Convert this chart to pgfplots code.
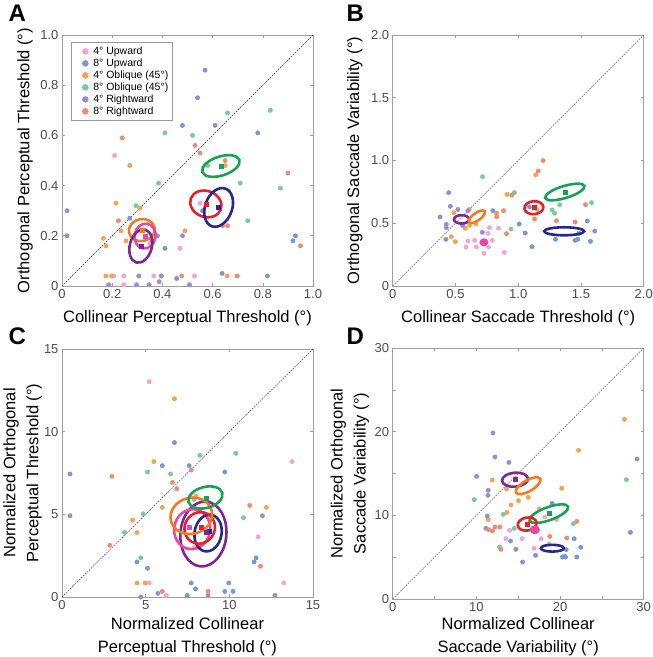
\documentclass[border=0pt]{standalone}
\usepackage{fontspec}
\setmainfont{Liberation Sans}
\usepackage{pgfplots}
\pgfplotsset{compat=1.18}
\definecolor{pinkL}{RGB}{244,164,208}
\definecolor{blueL}{RGB}{122,150,214}
\definecolor{orangeL}{RGB}{246,162,84}
\definecolor{greenL}{RGB}{124,202,152}
\definecolor{purpleL}{RGB}{152,140,210}
\definecolor{salmonL}{RGB}{238,140,112}
\definecolor{pinkS}{RGB}{232,72,160}
\definecolor{blueS}{RGB}{38,40,140}
\definecolor{orangeS}{RGB}{244,122,32}
\definecolor{greenS}{RGB}{22,162,82}
\definecolor{purpleS}{RGB}{122,40,152}
\definecolor{redS}{RGB}{230,32,42}
\pgfplotsset{
  panel/.style={width=251pt, height=251pt, scale only axis, anchor=south west,
    xmin=0, ymin=0,
    axis line style={gray!75, line width=0.7pt},
    tick style={gray!75, line width=0.6pt},
    major tick length=3pt, minor tick length=3pt, tick align=inside,
    tick label style={font=\fontsize{13}{13}\selectfont, text=black!70},
    label style={font=\fontsize{16.5}{23}\selectfont, align=center},
    /pgf/number format/assume math mode=true},
  pts/.style={only marks, mark=*, mark size=2.2pt, color=#1, mark options={draw=none, fill=#1},
    legend image code/.code={\path[draw=none, fill=none] (0pt,0pt) -- (18pt,0pt);
      \draw[##1, draw=none, mark size=2.9pt] plot coordinates {(12pt,0pt)};}},
  ell/.style n args={4}{forget plot, only marks, mark=o, mark size=1pt, color=#1,
    mark options={rotate=#4, xscale=#2, yscale=#3, line width=2.6pt, draw=#1, fill=none}},
  ellf/.style n args={4}{forget plot, only marks, mark=*, mark size=1pt, color=#1,
    mark options={rotate=#4, xscale=#2, yscale=#3, line width=1pt, draw=#1, fill=#1}},
  cen/.style={forget plot, only marks, mark=square*, mark size=2pt, color=#1},
  wh/.style={forget plot, only marks, mark=-, mark size=#1, color=white, mark options={line width=0.8pt, draw=white}},
  wv/.style={forget plot, only marks, mark=|, mark size=#1, color=white, mark options={line width=0.8pt, draw=white}},
  diag/.style={forget plot, black!85, line width=0.4pt, dash pattern=on 1.6pt off 1.1pt, mark=none},
}
\begin{document}
\begin{tikzpicture}
\path[use as bounding box] (0,0) rectangle (653pt,657pt);
% ---------------- A ----------------
\begin{axis}[panel, at={(62pt,371pt)}, xmax=1, ymax=1,
  xtick={0,0.2,0.4,0.6,0.8,1}, xticklabels={0,0.2,0.4,0.6,0.8,1.0},
  ytick={0,0.2,0.4,0.6,0.8,1}, yticklabels={0,0.2,0.4,0.6,0.8,1.0},
  xlabel={Collinear Perceptual Threshold (°)},
  ylabel={Orthogonal Perceptual Threshold (°)},
  xlabel style={at={(axis description cs:0.5,-0.127)}, anchor=center},
  ylabel style={at={(axis description cs:-0.147,0.5)}, anchor=center},
  legend style={at={(0.036,0.972)}, anchor=north west, draw=gray!80, line width=0.6pt,
    font=\fontsize{10.5}{11.5}\selectfont, row sep=-1.1pt, inner xsep=2pt, inner ysep=2.5pt},
  legend cell align=left]
\addplot[diag] coordinates {(0,0) (1,1)};
\addplot[pts=pinkL] coordinates {(0.21,0.52) (0.55,0.33) (0.47,0.15) (0.206,0.04) (0.246,0.04) (0.366,0.04) (0.528,0.04) (0.246,0.005) (0.35,0.17)};
\addplot[pts=blueL] coordinates {(0.27,0.27) (0.48,0.64) (0.54,0.75) (0.61,0.64) (0.78,0.61) (0.56,0.30) (0.93,0.20) (0.92,0.18) (0.41,0.15) (0.36,0.18) (0.638,0.05) (0.818,0.04) (0.457,0.03)};
\addplot[pts=orangeL] coordinates {(0.27,0.48) (0.215,0.33) (0.235,0.22) (0.165,0.19) (0.175,0.16) (0.255,0.18) (0.31,0.31) (0.65,0.48) (0.49,0.22) (0.175,0.04) (0.197,0.04) (0.658,0.04)};
\addplot[pts=greenL] coordinates {(0.295,0.32) (0.385,0.41) (0.41,0.61) (0.52,0.60) (0.66,0.69) (0.83,0.70) (0.87,0.39) (0.71,0.41) (0.74,0.26) (0.58,0.48)};
\addplot[pts=purpleL] coordinates {(0.02,0.30) (0.02,0.20) (0.57,0.86) (0.48,0.20) (0.38,0.20) (0.306,0.04) (0.396,0.04) (0.186,0.005) (0.297,0.005) (0.347,0.005) (0.387,0.017) (0.508,0.005)};
\addplot[pts=salmonL] coordinates {(0.24,0.59) (0.225,0.26) (0.53,0.56) (0.55,0.53) (0.90,0.45) (0.65,0.50) (0.64,0.24) (0.66,0.24) (0.95,0.16) (0.477,0.04) (0.698,0.04)};
\legend{4° Upward, 8° Upward, 4° Oblique (45°), 8° Oblique (45°), 4° Rightward, 8° Rightward}
\addplot[ell={greenS}{19.5}{9.5}{18}] coordinates {(0.633,0.478)};
\addplot[ell={redS}{16}{13}{-20}] coordinates {(0.573,0.327)};
\addplot[ell={blueS}{20}{13.5}{70}] coordinates {(0.624,0.313)};
\addplot[ell={orangeS}{13}{11}{10}] coordinates {(0.318,0.223)};
\addplot[ell={pinkS}{12.5}{10.5}{80}] coordinates {(0.331,0.199)};
\addplot[ell={purpleS}{17}{11}{75}] coordinates {(0.314,0.159)};
\addplot[cen=greenS] coordinates {(0.633,0.478)};
\addplot[cen=redS] coordinates {(0.573,0.327)};
\addplot[cen=blueS] coordinates {(0.624,0.313)};
\addplot[cen=orangeS] coordinates {(0.318,0.223)};
\addplot[cen=pinkS] coordinates {(0.331,0.199)};
\addplot[cen=purpleS] coordinates {(0.314,0.159)};
\end{axis}
% ---------------- B ----------------
\begin{axis}[panel, at={(392.7pt,371pt)}, xmax=2, ymax=2,
  xtick={0,0.5,1,1.5,2}, xticklabels={0,0.5,1.0,1.5,2.0},
  ytick={0,0.5,1,1.5,2}, yticklabels={0,0.5,1.0,1.5,2.0},
  xlabel={Collinear Saccade Threshold (°)},
  ylabel={Orthogonal Saccade Variability (°)},
  xlabel style={at={(axis description cs:0.5,-0.127)}, anchor=center},
  ylabel style={at={(axis description cs:-0.151,0.5)}, anchor=center}]
\addplot[diag] coordinates {(0,0) (2,2)};
\addplot[pts=pinkL] coordinates {(0.889,0.268) (0.843,0.46) (0.772,0.465) (0.759,0.42) (0.793,0.364) (0.764,0.311) (0.727,0.26) (0.666,0.311) (0.653,0.364) (0.6,0.359) (0.584,0.311)};
\addplot[pts=blueL] coordinates {(1.09,0.63) (1.55,0.518) (1.61,0.438) (1.483,0.42) (1.453,0.364) (1.475,0.372) (1.576,0.356) (1.297,0.372) (1.11,0.313) (1.056,0.422) (1.008,0.494) (0.798,0.6)};
\addplot[pts=orangeL] coordinates {(1.14,0.885) (0.912,0.73) (0.663,0.494) (0.613,0.483) (0.578,0.46) (0.61,0.61) (0.488,0.584) (0.467,0.393) (0.499,0.353)};
\addplot[pts=greenL] coordinates {(0.716,0.871) (0.97,0.744) (1.584,0.664) (1.33,0.648) (1.27,0.606) (1.29,0.58) (0.942,0.454) (1.15,0.61)};
\addplot[pts=purpleL] coordinates {(0.446,0.744) (0.714,0.428) (0.6,0.6) (0.52,0.61) (0.459,0.635) (0.377,0.55) (0.427,0.491) (0.427,0.465) (0.424,0.372) (0.557,0.483)};
\addplot[pts=salmonL] coordinates {(1.199,0.999) (1.159,0.916) (0.95,0.725) (1.536,0.648) (1.13,0.534) (1.305,0.52) (1.453,0.51) (0.907,0.417) (0.883,0.6) (0.828,0.58) (0.828,0.552)};
\addplot[ell={greenS}{20.5}{6}{17}] coordinates {(1.371,0.749)};
\addplot[ell={redS}{9.5}{6.5}{5}] coordinates {(1.125,0.624)};
\addplot[ell={blueS}{20}{4}{0}] coordinates {(1.366,0.436)};
\addplot[ell={purpleS}{7.6}{4.2}{0}] coordinates {(0.549,0.531)};
\addplot[ell={orangeS}{9.5}{3.8}{35}] coordinates {(0.671,0.552)};
\addplot[ellf={pinkS}{4}{3.5}{0}] coordinates {(0.727,0.348)};
\addplot[wh=9pt] coordinates {(1.366,0.436)};
\addplot[wv=2.2pt] coordinates {(1.366,0.436)};
\addplot[wh=3.5pt] coordinates {(0.549,0.531)};
\addplot[wv=2pt] coordinates {(0.549,0.531)};
\addplot[cen=greenS] coordinates {(1.371,0.749)};
\addplot[cen=redS] coordinates {(1.125,0.624)};
\end{axis}
% ---------------- C ----------------
\begin{axis}[panel, at={(62pt,60pt)}, height=248pt, xmax=15, ymax=15,
  xtick={0,5,10,15}, ytick={0,5,10,15},
  xlabel={Normalized Collinear\\Perceptual Threshold (°)},
  ylabel={Normalized Orthogonal\\Perceptual Threshold (°)},
  xlabel style={at={(axis description cs:0.5,-0.159)}, anchor=center},
  ylabel style={at={(axis description cs:-0.157,0.5)}, anchor=center}]
\addplot[diag] coordinates {(0,0) (15,15)};
\addplot[pts=pinkL] coordinates {(5.21,13.02) (13.75,8.19) (11.72,3.64) (5.21,0.85) (13.25,0.85) (6.23,0.10) (7.9,3.0)};
\addplot[pts=blueL] coordinates {(6.72,9.34) (5.99,7.94) (7.6,7.94) (9.73,7.56) (11.6,2.37) (11.48,2.12) (4.48,2.12) (5.11,1.74) (7.72,0.85) (7.98,0.49) (9.97,0.85) (5.73,0.22) (7.48,0.10) (9.73,0.34) (10.22,0.34)};
\addplot[pts=orangeL] coordinates {(6.72,11.99) (5.49,8.19) (5.99,5.42) (12.21,5.42) (4.22,4.65) (4.48,3.90) (4.48,0.85) (4.97,0.85) (8.0,6.1)};
\addplot[pts=greenL] coordinates {(8.24,8.57) (10.38,8.69) (5.11,7.56) (6.49,7.44) (10.84,4.79) (4.85,5.03) (3.74,3.90) (4.71,2.37) (7.9,5.9)};
\addplot[pts=purpleL] coordinates {(0.48,7.44) (0.48,4.91) (11.98,4.91) (4.71,0) (8.73,0.1) (12.73,0.1)};
\addplot[pts=salmonL] coordinates {(2.98,7.30) (7.72,7.68) (6.6,6.93) (6.86,6.55) (11.22,5.54) (2.86,3.13) (11.86,1.86) (5.99,0.34) (8.73,0.34)};
\addplot[ell={purpleS}{32.5}{23}{85}] coordinates {(8.45,3.81)};
\addplot[ell={pinkS}{20}{18}{80}] coordinates {(7.78,4.10)};
\addplot[ell={blueS}{18.5}{13.5}{80}] coordinates {(8.73,3.87)};
\addplot[ell={redS}{16}{15}{60}] coordinates {(8.23,4.18)};
\addplot[ell={orangeS}{21}{18}{15}] coordinates {(7.73,4.91)};
\addplot[ell={greenS}{17.5}{10.5}{15}] coordinates {(8.57,6.02)};
\addplot[cen=greenS] coordinates {(8.6,6.0)};
\addplot[cen=pinkS] coordinates {(7.6,4.2)};
\addplot[cen=redS] coordinates {(8.3,4.2)};
\addplot[cen=blueS] coordinates {(8.8,3.95)};
\addplot[cen=purpleS] coordinates {(8.6,3.9)};
\end{axis}
% ---------------- D ----------------
\begin{axis}[panel, at={(392.7pt,58pt)}, xmax=30, ymax=30,
  xtick={0,10,20,30}, ytick={0,10,20,30},
  minor xtick={5,15,25}, minor ytick={5,15,25},
  xlabel={Normalized Collinear\\Saccade Variability (°)},
  ylabel={Normalized Orthogonal\\Saccade Variability (°)},
  xlabel style={at={(axis description cs:0.5,-0.149)}, anchor=center},
  ylabel style={at={(axis description cs:-0.171,0.5)}, anchor=center}]
\addplot[diag] coordinates {(0,0) (30,30)};
\addplot[pts=pinkL] coordinates {(13.97,8.21) (13.53,7.21) (15.48,7.21) (16.91,6.06) (17.75,7.21) (18.7,6.61) (19.58,9.48) (18.19,9.8) (17.5,10.8)};
\addplot[pts=blueL] coordinates {(14.09,6.93) (14.72,5.94) (15.52,4.42) (17.07,5.22) (21.69,7.21) (20.73,5.9) (20.29,5.02) (20.57,5.1) (20.65,5.02) (22.0,5.02) (22.48,6.18) (28.41,7.97) (19.06,11.43)};
\addplot[pts=orangeL] coordinates {(27.7,21.47) (22.2,17.77) (11.9,14.22) (13.6,13.15) (16.2,12.15) (15.04,11.75) (20.21,13.23) (14.13,11.24) (13.65,10.36) (11.42,9.48)};
\addplot[pts=greenL] coordinates {(27.93,14.26) (9.75,11.87) (13.21,10.12) (14.52,8.45) (12.77,6.22) (21.6,9.0)};
\addplot[pts=purpleL] coordinates {(11.98,19.84) (29.21,16.73) (12.22,16.97) (13.89,16.33) (10.03,14.66) (11.42,12.99) (11.38,12.39) (11.3,9.92) (11.14,8.45)};
\addplot[pts=salmonL] coordinates {(12.81,8.61) (12.22,8.61) (11.94,8.13) (11.46,8.29) (12.93,5.94) (18.78,7.49) (22.0,9.28) (20.81,7.29)};
\addplot[ell={purpleS}{13}{7}{5}] coordinates {(14.62,14.26)};
\addplot[ell={orangeS}{14}{5.5}{30}] coordinates {(16.19,13.54)};
\addplot[ell={greenS}{20.5}{6.5}{20}] coordinates {(18.66,10.2)};
\addplot[ell={redS}{9.5}{6.5}{10}] coordinates {(16.07,8.96)};
\addplot[ellf={pinkS}{4.5}{4}{0}] coordinates {(16.99,8.28)};
\addplot[ell={blueS}{11.5}{3.4}{0}] coordinates {(19.08,6.07)};
\addplot[wh=6pt] coordinates {(19.08,6.07)};
\addplot[wv=2pt] coordinates {(19.08,6.07)};
\addplot[wv=3pt] coordinates {(16.19,13.54)};
\addplot[cen=purpleS] coordinates {(14.62,14.26)};
\addplot[cen=greenS] coordinates {(18.66,10.2)};
\addplot[cen=redS] coordinates {(16.07,8.96)};
\end{axis}
\node[anchor=base west, font=\bfseries\fontsize{24}{24}\selectfont] at (5pt,635pt) {A};
\node[anchor=base west, font=\bfseries\fontsize{24}{24}\selectfont] at (343pt,635pt) {B};
\node[anchor=base west, font=\bfseries\fontsize{24}{24}\selectfont] at (5pt,312pt) {C};
\node[anchor=base west, font=\bfseries\fontsize{24}{24}\selectfont] at (343pt,312pt) {D};
\end{tikzpicture}
\end{document}
